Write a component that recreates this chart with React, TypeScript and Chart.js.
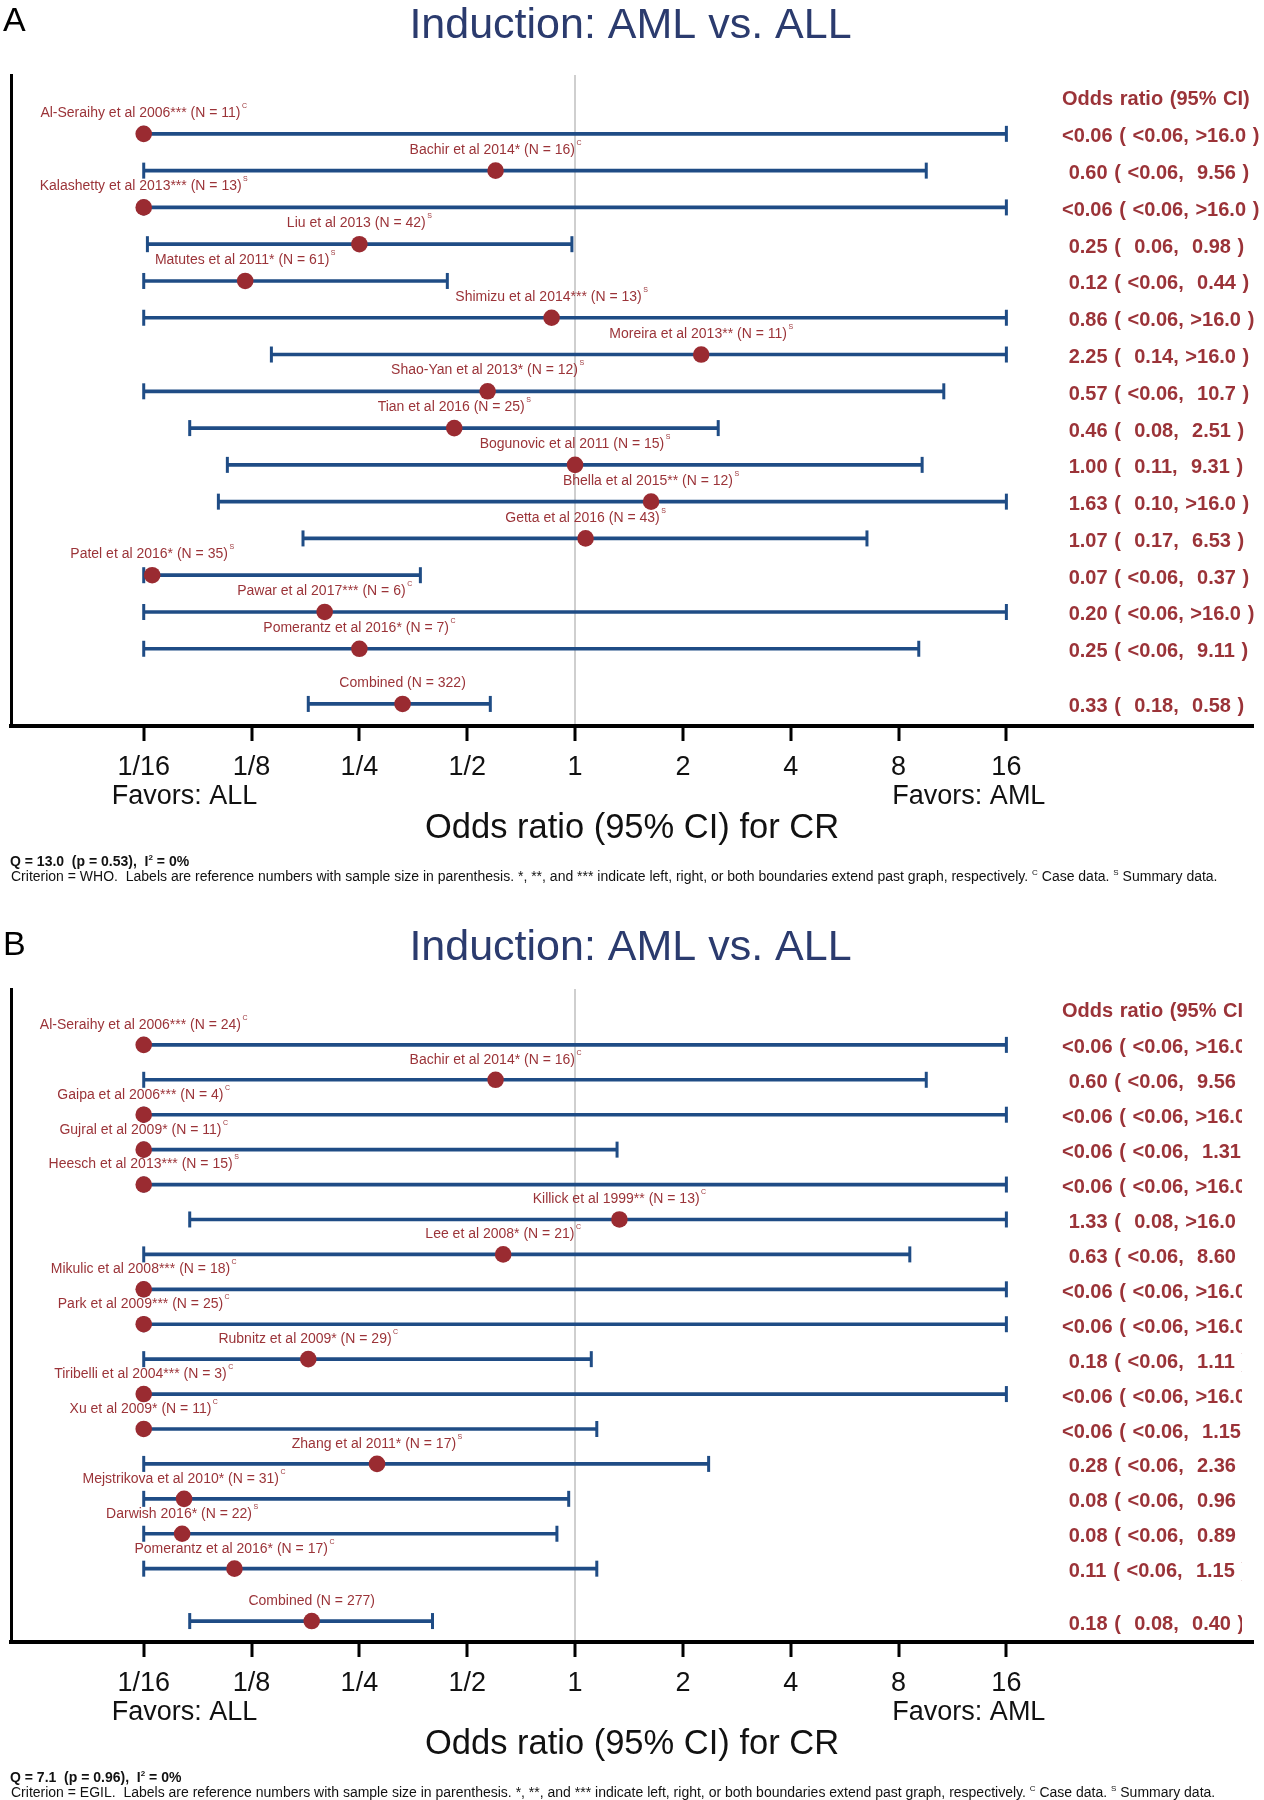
import React, { useEffect, useRef } from 'react';
import { Chart, registerables } from 'chart.js';

Chart.register(...registerables);

const FONT = "'Liberation Sans', Arial, Helvetica, sans-serif";
const NAVY = '#1F4C85';
const DOT_RED = '#9A2B31';
const TEXT_RED = '#9B3338';
const TITLE_BLUE = '#2B3B6E';
const REF_GRAY = '#CFCFCF';

// graph boundaries (values beyond are shown as "<0.06" / ">16.0")
const GRAPH_MIN = 1 / 16;
const GRAPH_MAX = 16;

// x axis ticks
const tickValues = [1 / 16, 1 / 8, 1 / 4, 1 / 2, 1, 2, 4, 8, 16];
const tickLabels = ['1/16', '1/8', '1/4', '1/2', '1', '2', '4', '8', '16'];

type V = number | string;

// ---------------- Panel A (WHO) ----------------
const studiesA = [
  'Al-Seraihy et al 2006***', 'Bachir et al 2014*', 'Kalashetty et al 2013***', 'Liu et al 2013',
  'Matutes et al 2011*', 'Shimizu et al 2014***', 'Moreira et al 2013**', 'Shao-Yan et al 2013*',
  'Tian et al 2016', 'Bogunovic et al 2011', 'Bhella et al 2015**', 'Getta et al 2016',
  'Patel et al 2016*', 'Pawar et al 2017***', 'Pomerantz et al 2016*',
];
const sampleSizeA = [11, 16, 13, 42, 61, 13, 11, 12, 25, 15, 12, 43, 35, 6, 7];
const dataKindA = ['C', 'C', 'S', 'S', 'S', 'S', 'S', 'S', 'S', 'S', 'S', 'S', 'S', 'C', 'C'];
const oddsRatioA: V[] = ['<0.06', 0.60, '<0.06', 0.25, 0.12, 0.86, 2.25, 0.57, 0.46, 1.00, 1.63, 1.07, 0.066, 0.20, 0.25];
const ciLowA: V[] = ['<0.06', '<0.06', '<0.06', 0.064, '<0.06', '<0.06', 0.142, '<0.06', 0.084, 0.107, 0.101, 0.174, '<0.06', '<0.06', '<0.06'];
const ciHighA: V[] = ['>16.0', 9.56, '>16.0', 0.98, 0.44, '>16.0', '>16.0', 10.7, 2.51, 9.31, '>16.0', 6.53, 0.37, '>16.0', 9.11];
const combinedA = [0.33, 0.18, 0.58];
const combinedNA = 322;
const heterogeneityA = [13.0, 0.53, 0];

// ---------------- Panel B (EGIL) ----------------
const studiesB = [
  'Al-Seraihy et al 2006***', 'Bachir et al 2014*', 'Gaipa et al 2006***', 'Gujral et al 2009*',
  'Heesch et al 2013***', 'Killick et al 1999**', 'Lee et al 2008*', 'Mikulic et al 2008***',
  'Park et al 2009***', 'Rubnitz et al 2009*', 'Tiribelli et al 2004***', 'Xu et al 2009*',
  'Zhang et al 2011*', 'Mejstrikova et al 2010*', 'Darwish 2016*', 'Pomerantz et al 2016*',
];
const sampleSizeB = [24, 16, 4, 11, 15, 13, 21, 18, 25, 29, 3, 11, 17, 31, 22, 17];
const dataKindB = ['C', 'C', 'C', 'C', 'S', 'C', 'C', 'C', 'C', 'C', 'C', 'C', 'S', 'C', 'S', 'C'];
const oddsRatioB: V[] = ['<0.06', 0.60, '<0.06', '<0.06', '<0.06', 1.33, 0.63, '<0.06', '<0.06', 0.18, '<0.06', '<0.06', 0.28, 0.081, 0.080, 0.112];
const ciLowB: V[] = ['<0.06', '<0.06', '<0.06', '<0.06', '<0.06', 0.084, '<0.06', '<0.06', '<0.06', '<0.06', '<0.06', '<0.06', '<0.06', '<0.06', '<0.06', '<0.06'];
const ciHighB: V[] = ['>16.0', 9.56, '>16.0', 1.31, '>16.0', '>16.0', 8.60, '>16.0', '>16.0', 1.11, '>16.0', 1.15, 2.36, 0.96, 0.89, 1.15];
const combinedB = [0.184, 0.084, 0.40];
const combinedNB = 277;
const heterogeneityB = [7.1, 0.96, 0];

// ---------------- layout (pixels) ----------------
const W = 1264;
const H = 900;
const PLOT_LEFT = 7;
const PLOT_RIGHT = 1261;
const PX_MIN_TICK = 141; // pixel of 1/16
const PX_MAX_TICK = 1012; // pixel of 16
const OCTAVE = (PX_MAX_TICK - PX_MIN_TICK) / 8;
const X_MIN = Math.pow(2, -4 - (PX_MIN_TICK - PLOT_LEFT) / OCTAVE);
const X_MAX = Math.pow(2, 4 + (PLOT_RIGHT - PX_MAX_TICK) / OCTAVE);
const VALUE_X = 1062;

interface Panel {
  letter: string;
  criterion: string;
  studies: string[];
  sizes: number[];
  kinds: string[];
  or: V[];
  lo: V[];
  hi: V[];
  combined: number[];
  combinedN: number;
  het: number[];
  titlePad: { top: number; bottom: number };
  letterBaseline: number;
  bottomPad: number;
  clipX: number | null;
}

const panels: Panel[] = [
  {
    letter: 'A', criterion: 'WHO', studies: studiesA, sizes: sampleSizeA, kinds: dataKindA,
    or: oddsRatioA, lo: ciLowA, hi: ciHighA, combined: combinedA, combinedN: combinedNA, het: heterogeneityA,
    titlePad: { top: 0.3, bottom: 23.1 }, letterBaseline: 31, bottomPad: 49, clipX: null,
  },
  {
    letter: 'B', criterion: 'EGIL', studies: studiesB, sizes: sampleSizeB, kinds: dataKindB,
    or: oddsRatioB, lo: ciLowB, hi: ciHighB, combined: combinedB, combinedN: combinedNB, het: heterogeneityB,
    titlePad: { top: 22.3, bottom: 15.1 }, letterBaseline: 55, bottomPad: 33, clipX: 1242,
  },
];

const toPlot = (v: V) => (typeof v === 'string' ? (v.startsWith('<') ? GRAPH_MIN : GRAPH_MAX) : v);
const fmt = (v: V) => {
  const s = typeof v === 'string' ? v : v >= 10 ? v.toFixed(1) : v.toFixed(2);
  return s.padStart(5, ' ');
};

interface Row { y: number; or: number; lo: number; hi: number; label: string; sup: string; text: string }

function buildRows(p: Panel): Row[] {
  const rows: Row[] = p.studies.map((s, i) => ({
    y: i + 1,
    or: toPlot(p.or[i]),
    lo: toPlot(p.lo[i]),
    hi: toPlot(p.hi[i]),
    label: `${s} (N = ${p.sizes[i]})`,
    sup: p.kinds[i],
    text: `${fmt(p.or[i])} ( ${fmt(p.lo[i])}, ${fmt(p.hi[i])} )`,
  }));
  rows.push({
    y: p.studies.length + 1.5,
    or: p.combined[0],
    lo: p.combined[1],
    hi: p.combined[2],
    label: `Combined (N = ${p.combinedN})`,
    sup: '',
    text: `${fmt(p.combined[0])} ( ${fmt(p.combined[1])}, ${fmt(p.combined[2])} )`,
  });
  return rows;
}

type Part = { t: string; sup?: boolean };
function drawRich(ctx: CanvasRenderingContext2D, parts: Part[], x: number, y: number, font: string, supFont: string, rise: number) {
  let cx = x;
  for (const part of parts) {
    ctx.font = part.sup ? supFont : font;
    ctx.fillText(part.t, cx, part.sup ? y - rise : y);
    cx += ctx.measureText(part.t).width;
  }
}

function buildConfig(p: Panel): any {
  const rows = buildRows(p);
  const n = p.studies.length;

  const textPlugin = {
    id: 'forestText',
    afterDraw(chart: any) {
      const ctx: CanvasRenderingContext2D = chart.ctx;
      const xs = chart.scales.x;
      const ys = chart.scales.y;
      ctx.save();

      // panel letter
      ctx.fillStyle = '#000';
      ctx.textAlign = 'left';
      ctx.textBaseline = 'alphabetic';
      ctx.font = `34px ${FONT}`;
      ctx.fillText(p.letter, 3, p.letterBaseline);

      // study labels above each line
      for (const r of rows) {
        const cx = xs.getPixelForValue(r.or);
        const by = ys.getPixelForValue(r.y - 0.46);
        ctx.font = `14px ${FONT}`;
        const w1 = ctx.measureText(r.label).width;
        ctx.font = `7px ${FONT}`;
        const w2 = r.sup ? ctx.measureText(r.sup).width + 1.5 : 0;
        const start = cx - (w1 + w2) / 2;
        ctx.fillStyle = TEXT_RED;
        ctx.textAlign = 'left';
        ctx.textBaseline = 'alphabetic';
        ctx.font = `14px ${FONT}`;
        ctx.fillText(r.label, start, by);
        if (r.sup) {
          ctx.font = `7px ${FONT}`;
          ctx.fillText(r.sup, start + w1 + 1.5, by - 9);
        }
      }

      // odds ratio column
      ctx.save();
      if (p.clipX !== null) {
        ctx.beginPath();
        ctx.rect(0, 0, p.clipX, H);
        ctx.clip();
      }
      ctx.fillStyle = TEXT_RED;
      ctx.textAlign = 'left';
      ctx.textBaseline = 'middle';
      ctx.font = `bold 20px ${FONT}`;
      try {
        (ctx as any).wordSpacing = '1.1px';
      } catch (e) {
        /* ignore */
      }
      ctx.fillText('Odds ratio (95% CI)', VALUE_X, ys.getPixelForValue(0) + 2);
      for (const r of rows) {
        ctx.fillText(r.text, VALUE_X, ys.getPixelForValue(r.y) + 3);
      }
      ctx.restore();

      // favors labels
      const axisTop = xs.top;
      ctx.fillStyle = '#111';
      ctx.textBaseline = 'middle';
      ctx.font = `27px ${FONT}`;
      ctx.textAlign = 'left';
      ctx.fillText('Favors: ALL', xs.getPixelForValue(GRAPH_MIN) - 32, axisTop + 71);
      ctx.textAlign = 'right';
      ctx.fillText('Favors: AML', xs.getPixelForValue(GRAPH_MAX) + 39, axisTop + 71);

      // footnotes
      ctx.textAlign = 'left';
      ctx.textBaseline = 'alphabetic';
      ctx.fillStyle = '#111';
      drawRich(ctx, [
        { t: `Q = ${p.het[0].toFixed(1)}  (p = ${p.het[1].toFixed(2)}),  I` },
        { t: '2', sup: true },
        { t: ` = ${p.het[2]}%` },
      ], 10, axisTop + 140, `bold 14px ${FONT}`, `bold 8px ${FONT}`, 6);
      drawRich(ctx, [
        { t: `Criterion = ${p.criterion}.  Labels are reference numbers with sample size in parenthesis. *, **, and *** indicate left, right, or both boundaries extend past graph, respectively. ` },
        { t: 'C', sup: true },
        { t: ' Case data. ' },
        { t: 'S', sup: true },
        { t: ' Summary data.' },
      ], 11, axisTop + 155, `14px ${FONT}`, `8px ${FONT}`, 6);

      ctx.restore();
    },
  };

  return {
    type: 'scatter',
    data: {
      datasets: [
        {
          type: 'scatter',
          label: 'Odds ratio',
          data: rows.map((r) => ({ x: r.or, y: r.y })),
          pointStyle: 'circle',
          pointRadius: 8.3,
          pointBackgroundColor: DOT_RED,
          pointBorderWidth: 0,
          order: 0,
        },
        {
          type: 'scatter',
          label: 'CI ends',
          data: rows.flatMap((r) => [{ x: r.lo, y: r.y }, { x: r.hi, y: r.y }]),
          pointStyle: 'line',
          pointRotation: 90,
          pointRadius: 8,
          pointBorderColor: NAVY,
          pointBorderWidth: 3,
          order: 1,
        },
        {
          type: 'bar',
          label: '95% CI',
          indexAxis: 'y',
          data: rows.map((r) => ({ x: [r.lo, r.hi], y: r.y })),
          backgroundColor: NAVY,
          borderWidth: 0,
          barThickness: 3,
          grouped: false,
          order: 2,
        },
      ],
    },
    options: {
      responsive: false,
      animation: false,
      devicePixelRatio: 1,
      events: [],
      layout: { padding: { left: 0, right: W - PLOT_RIGHT, top: 0, bottom: p.bottomPad } },
      plugins: {
        legend: { display: false },
        tooltip: { enabled: false },
        title: {
          display: true,
          text: 'Induction: AML vs. ALL',
          color: TITLE_BLUE,
          font: { family: FONT, size: 43, weight: 'normal', lineHeight: 1.2 },
          padding: p.titlePad,
        },
      },
      scales: {
        x: {
          type: 'logarithmic',
          min: X_MIN,
          max: X_MAX,
          bounds: 'data',
          offset: false,
          beginAtZero: false,
          afterBuildTicks: (scale: any) => {
            scale.ticks = tickValues.map((v) => ({ value: v }));
          },
          afterFit: (scale: any) => {
            scale.height = 125;
          },
          ticks: {
            autoSkip: false,
            maxRotation: 0,
            minRotation: 0,
            padding: 10,
            color: '#111',
            font: { family: FONT, size: 27 },
            callback: (_v: any, i: number) => tickLabels[i],
          },
          grid: {
            display: true,
            offset: false,
            drawOnChartArea: true,
            drawTicks: true,
            tickLength: 15,
            tickWidth: 3,
            tickColor: '#000',
            lineWidth: 2,
            color: (c: any) => (c.tick && c.tick.value === 1 ? REF_GRAY : 'rgba(0,0,0,0)'),
          },
          border: { display: true, color: '#000', width: 4 },
          title: {
            display: true,
            text: 'Odds ratio (95% CI) for CR',
            color: '#111',
            font: { family: FONT, size: 34.5, lineHeight: 1.2 },
            padding: { top: 0, bottom: 2.3 },
          },
        },
        y: {
          type: 'linear',
          reverse: true,
          min: -0.6,
          max: n + 2.1,
          bounds: 'data',
          offset: false,
          beginAtZero: false,
          afterFit: (scale: any) => {
            scale.width = PLOT_LEFT;
          },
          ticks: { display: false },
          grid: { display: true, offset: false, color: 'rgba(0,0,0,0)', drawTicks: false },
          border: { display: true, color: '#000', width: 3 },
        },
      },
    },
    plugins: [textPlugin],
  };
}

function ForestPanel({ panel }: { panel: Panel }) {
  const ref = useRef<HTMLCanvasElement>(null);
  useEffect(() => {
    if (!ref.current) return;
    const chart = new Chart(ref.current, buildConfig(panel));
    return () => chart.destroy();
  }, [panel]);
  return <canvas ref={ref} width={W} height={H} style={{ display: 'block', width: W, height: H }} />;
}

export default function App() {
  useEffect(() => {
    document.body.style.margin = '0';
    document.body.style.background = '#ffffff';
  }, []);
  return (
    <div style={{ width: W, background: '#ffffff' }}>
      {panels.map((p) => (
        <ForestPanel key={p.letter} panel={p} />
      ))}
    </div>
  );
}
